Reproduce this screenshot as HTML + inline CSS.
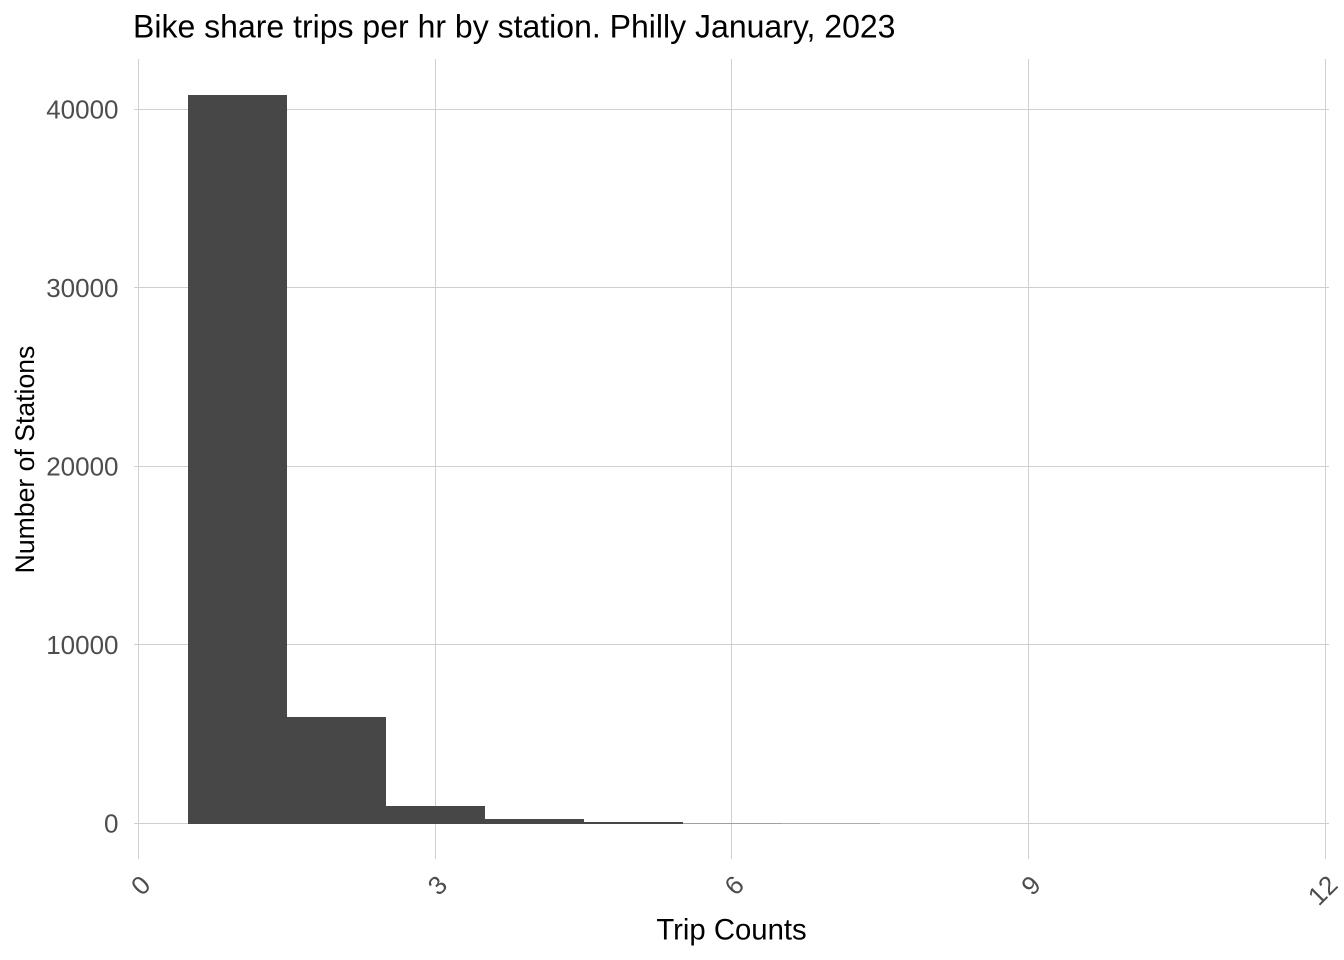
<!DOCTYPE html>
<html>
<head>
<meta charset="utf-8">
<style>
  html, body { margin: 0; padding: 0; background: #ffffff; }
  svg { display: block; }
  text { font-family: "Liberation Sans", Arial, Helvetica, sans-serif; }
</style>
</head>
<body>
<svg width="1344" height="960" viewBox="0 0 1344 960" xmlns="http://www.w3.org/2000/svg">
  <rect x="0" y="0" width="1344" height="960" fill="#ffffff"/>

  <!-- Title -->
  <text x="133" y="37.5" font-size="32" fill="#000000">Bike share trips per hr by station. Philly January, 2023</text>

  <!-- Horizontal gridlines -->
  <g stroke="#d0d0d0" stroke-width="1" shape-rendering="crispEdges">
    <line x1="134" y1="823.5" x2="1329" y2="823.5"/>
    <line x1="134" y1="644.5" x2="1329" y2="644.5"/>
    <line x1="134" y1="466.5" x2="1329" y2="466.5"/>
    <line x1="134" y1="287.5" x2="1329" y2="287.5"/>
    <line x1="134" y1="109.5" x2="1329" y2="109.5"/>
  </g>
  <!-- Vertical gridlines -->
  <g stroke="#d0d0d0" stroke-width="1" shape-rendering="crispEdges">
    <line x1="138.5" y1="59" x2="138.5" y2="859"/>
    <line x1="435.5" y1="59" x2="435.5" y2="859"/>
    <line x1="731.5" y1="59" x2="731.5" y2="859"/>
    <line x1="1028.5" y1="59" x2="1028.5" y2="859"/>
    <line x1="1325.5" y1="59" x2="1325.5" y2="859"/>
  </g>

  <!-- Bars -->
  <g fill="#474747" shape-rendering="crispEdges">
    <rect x="188" y="95" width="99" height="729"/>
    <rect x="287" y="717" width="99" height="107"/>
    <rect x="386" y="806" width="99" height="18"/>
    <rect x="485" y="819" width="99" height="5"/>
    <rect x="584" y="822" width="99" height="2"/>
  </g>
  <g fill="#474747">
    <rect x="683" y="823" width="99" height="1" opacity="0.35"/>
    <rect x="782" y="823" width="98" height="1" opacity="0.25"/>
  </g>

  <!-- Y tick labels -->
  <g font-size="26" fill="#4d4d4d" text-anchor="end">
    <text x="118.5" y="832.5">0</text>
    <text x="118.5" y="654">10000</text>
    <text x="118.5" y="475.5">20000</text>
    <text x="118.5" y="297">30000</text>
    <text x="118.5" y="118.5">40000</text>
  </g>

  <!-- X tick labels (rotated 45deg) -->
  <g font-size="26" fill="#4d4d4d" text-anchor="middle">
    <text transform="translate(147,891.6) rotate(-45)">0</text>
    <text transform="translate(443.8,891.6) rotate(-45)">3</text>
    <text transform="translate(740.5,891.6) rotate(-45)">6</text>
    <text transform="translate(1037.2,891.6) rotate(-45)">9</text>
    <text transform="translate(1329,896.6) rotate(-45)">12</text>
  </g>

  <!-- Axis titles -->
  <text x="731.5" y="939.5" font-size="29.3" fill="#000000" text-anchor="middle">Trip Counts</text>
  <text transform="translate(34,459.5) rotate(-90)" font-size="26.6" fill="#000000" text-anchor="middle">Number of Stations</text>
</svg>
</body>
</html>
